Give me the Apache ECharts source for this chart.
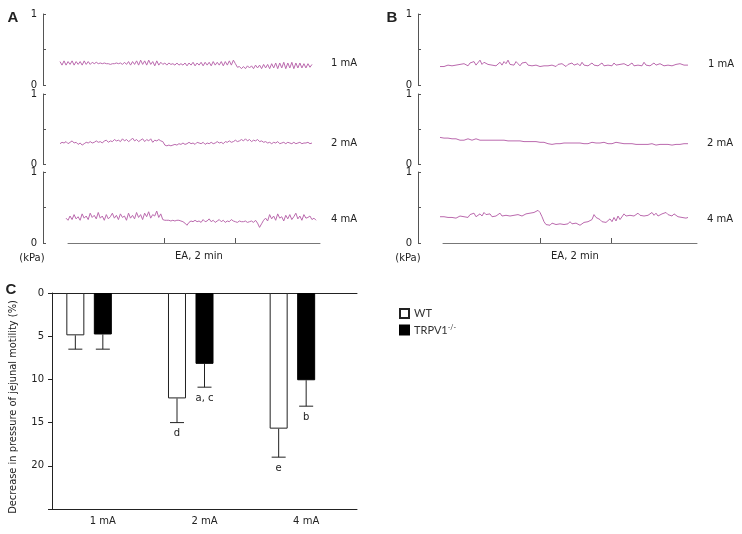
<!DOCTYPE html>
<html><head><meta charset="utf-8">
<script src="https://cdn.jsdelivr.net/npm/echarts@6/dist/echarts.min.js"></script>
<style>html,body{margin:0;padding:0;background:#fff}#c{width:742px;height:534px}</style>
</head><body><div id="c"></div>
<script>
// ---- Panel A traces (kPa) ----
const traceA1 = [
0.33,0.28,0.34,0.28,0.33,0.29,0.34,0.28,0.33,0.29,
0.33,0.28,0.34,0.29,0.33,0.29,0.32,0.30,0.32,0.30,
0.31,0.30,0.31,0.30,0.30,0.29,0.30,0.30,0.31,0.30,
0.31,0.29,0.32,0.29,0.33,0.28,0.33,0.29,0.34,0.28,
0.35,0.29,0.34,0.28,0.35,0.29,0.33,0.27,0.34,0.28,
0.32,0.29,0.31,0.28,0.31,0.29,0.30,0.28,0.31,0.28,
0.30,0.28,0.31,0.27,0.31,0.28,0.32,0.27,0.31,0.28,
0.32,0.27,0.32,0.28,0.32,0.27,0.33,0.28,0.32,0.28,
0.33,0.27,0.33,0.28,0.34,0.28,0.35,0.30,0.25,0.26,
0.23,0.26,0.23,0.27,0.24,0.27,0.23,0.28,0.24,0.28,
0.23,0.29,0.24,0.29,0.23,0.30,0.24,0.31,0.23,0.31,
0.24,0.32,0.23,0.31,0.24,0.32,0.23,0.31,0.24,0.31,
0.24,0.30,0.24,0.30,0.25,0.29];
const traceA2 = [
0.29,0.31,0.30,0.32,0.29,0.31,0.33,0.30,0.31,0.28,
0.30,0.27,0.29,0.31,0.30,0.32,0.30,0.31,0.33,0.31,
0.32,0.30,0.33,0.34,0.31,0.33,0.32,0.35,0.33,0.34,
0.32,0.36,0.33,0.35,0.32,0.34,0.37,0.33,0.35,0.32,
0.34,0.36,0.32,0.35,0.33,0.36,0.31,0.34,0.33,0.35,
0.33,0.32,0.27,0.26,0.27,0.26,0.27,0.28,0.27,0.29,
0.28,0.30,0.28,0.29,0.31,0.29,0.30,0.28,0.31,0.30,
0.29,0.31,0.28,0.30,0.29,0.31,0.29,0.30,0.32,0.30,
0.31,0.29,0.32,0.31,0.33,0.31,0.32,0.34,0.32,0.33,
0.35,0.33,0.36,0.33,0.35,0.32,0.34,0.33,0.35,0.32,
0.33,0.31,0.32,0.30,0.31,0.29,0.31,0.30,0.32,0.29,
0.30,0.31,0.29,0.31,0.30,0.29,0.31,0.29,0.30,0.31,
0.29,0.30,0.30,0.31,0.29,0.30];
const traceA3 = [
0.35,0.32,0.38,0.33,0.40,0.34,0.37,0.32,0.41,0.35,
0.38,0.33,0.42,0.36,0.39,0.34,0.43,0.35,0.38,0.32,
0.40,0.34,0.37,0.42,0.35,0.39,0.33,0.41,0.36,0.38,
0.32,0.42,0.35,0.39,0.34,0.43,0.36,0.40,0.33,0.42,
0.37,0.44,0.35,0.40,0.38,0.45,0.36,0.41,0.33,0.32,
0.32,0.32,0.31,0.32,0.31,0.32,0.32,0.31,0.30,0.28,
0.25,0.29,0.31,0.30,0.32,0.30,0.31,0.29,0.33,0.30,
0.31,0.34,0.30,0.32,0.29,0.31,0.33,0.30,0.32,0.29,
0.31,0.30,0.33,0.31,0.30,0.29,0.31,0.30,0.30,0.31,
0.29,0.30,0.31,0.29,0.32,0.28,0.22,0.27,0.32,0.35,
0.31,0.40,0.34,0.38,0.32,0.41,0.35,0.37,0.31,0.39,
0.34,0.40,0.33,0.37,0.42,0.34,0.38,0.32,0.40,0.35,
0.36,0.38,0.33,0.35,0.32];
// ---- Panel B traces (kPa) ----
const traceB1 = [
0.26,0.27,0.26,0.25,0.28,0.26,0.27,0.26,0.28,0.27,
0.29,0.27,0.30,0.28,0.27,0.31,0.29,0.33,0.28,0.30,
0.35,0.29,0.32,0.34,0.29,0.31,0.28,0.30,0.27,0.29,
0.32,0.28,0.33,0.30,0.35,0.29,0.31,0.28,0.33,0.30,
0.27,0.31,0.29,0.32,0.28,0.30,0.27,0.29,0.28,0.27,
0.26,0.28,0.27,0.25,0.27,0.26,0.28,0.27,0.26,0.29,
0.27,0.30,0.28,0.26,0.29,0.27,0.31,0.28,0.27,0.30,
0.27,0.32,0.28,0.30,0.27,0.29,0.31,0.28,0.30,0.27,
0.28,0.31,0.27,0.29,0.28,0.30,0.27,0.31,0.28,0.26,
0.29,0.27,0.30,0.28,0.27,0.29,0.31,0.27,0.29,0.28,
0.30,0.27,0.32,0.28,0.30,0.27,0.29,0.31,0.28,0.27,
0.30,0.28,0.27,0.29,0.28,0.30,0.27,0.26,0.29,0.28,
0.30,0.29,0.28,0.29,0.28];
const traceB2 = [
0.38,0.38,0.37,0.38,0.37,0.37,0.36,0.37,0.36,0.35,
0.34,0.35,0.34,0.35,0.36,0.35,0.34,0.35,0.36,0.35,
0.34,0.35,0.34,0.35,0.34,0.33,0.34,0.35,0.34,0.33,
0.34,0.33,0.34,0.35,0.33,0.34,0.33,0.32,0.33,0.32,
0.33,0.34,0.32,0.33,0.32,0.31,0.32,0.31,0.32,0.33,
0.31,0.30,0.31,0.30,0.29,0.28,0.28,0.28,0.29,0.28,
0.29,0.29,0.30,0.29,0.30,0.29,0.30,0.31,0.30,0.29,
0.30,0.31,0.29,0.30,0.29,0.30,0.31,0.29,0.30,0.29,
0.30,0.29,0.31,0.30,0.29,0.31,0.29,0.30,0.31,0.29,
0.30,0.28,0.29,0.30,0.29,0.28,0.29,0.30,0.28,0.29,
0.28,0.29,0.28,0.29,0.28,0.28,0.29,0.28,0.27,0.28,
0.28,0.29,0.28,0.27,0.28,0.28,0.27,0.28,0.28,0.29,
0.28,0.28,0.29,0.29,0.29];
const traceB3 = [
0.37,0.36,0.37,0.35,0.36,0.35,0.36,0.37,0.35,0.36,
0.38,0.36,0.37,0.39,0.36,0.40,0.38,0.42,0.37,0.39,
0.41,0.38,0.43,0.40,0.38,0.41,0.37,0.39,0.38,0.40,
0.42,0.38,0.40,0.39,0.41,0.38,0.40,0.39,0.38,0.40,
0.39,0.38,0.40,0.41,0.39,0.42,0.41,0.43,0.44,0.46,
0.43,0.37,0.30,0.26,0.27,0.25,0.28,0.27,0.26,0.28,
0.27,0.29,0.26,0.28,0.27,0.30,0.27,0.26,0.28,0.26,
0.25,0.27,0.29,0.27,0.30,0.28,0.33,0.40,0.36,0.38,
0.33,0.30,0.32,0.29,0.31,0.34,0.30,0.36,0.31,0.38,
0.33,0.34,0.41,0.38,0.40,0.39,0.41,0.38,0.40,0.42,
0.39,0.41,0.38,0.40,0.39,0.41,0.43,0.39,0.42,0.38,
0.40,0.41,0.39,0.43,0.40,0.42,0.38,0.41,0.39,0.37,
0.38,0.36,0.37,0.35,0.36];
const traceLabels = ['1 mA', '2 mA', '4 mA'];
const pressureTicks = [0, 0.5, 1];
const eaWindowSec = [0, 120];      // EA stimulation, 2 min
const timeRangeA = [-162, 264];
const timeRangeB = [-164, 265];

// ---- Panel C ----
const barCategories = ['1 mA', '2 mA', '4 mA'];
const wtMean = [4.9, 12.2, 15.7];
const wtSD   = [1.6, 2.8, 3.3];
const koMean = [4.8, 8.2, 10.1];
const koSD   = [1.7, 2.7, 3.0];
const wtNotes = ['', 'd', 'e'];
const koNotes = ['', 'a, c', 'b'];
const seriesNames = ['WT', 'TRPV1-/-'];

const FONT = 'DejaVu Sans';
const TRACE_COLOR = '#bb6aae';
const AXIS_GREY = '#555';
const BAR_W = 18, BAR_GAP_PX = 9.5, CAP_HALF = 7;

const chart = echarts.init(document.getElementById('c'), null, {renderer: 'canvas'});

const grids = [], xAxes = [], yAxes = [], series = [];

function addTrace(data, box, yOffset) {
  const gi = grids.length;
  grids.push({left: box[0], top: box[1], width: box[2], height: box[3], containLabel: false});
  xAxes.push({gridIndex: gi, type: 'category', boundaryGap: false, data: data.map((_, i) => i), show: false});
  yAxes.push({gridIndex: gi, type: 'value', min: pressureTicks[0], max: pressureTicks[2], interval: pressureTicks[1],
    offset: yOffset,
    axisLine: {show: true, lineStyle: {color: AXIS_GREY, width: 1}},
    axisTick: {show: true, inside: true, length: 3, lineStyle: {color: AXIS_GREY}},
    axisLabel: {show: true, margin: 6, color: '#222', fontFamily: FONT, fontSize: 10,
      formatter: v => (v === 0.5 ? '' : String(v))},
    splitLine: {show: false}});
  series.push({type: 'line', xAxisIndex: gi, yAxisIndex: gi, data: data, symbol: 'none',
    lineStyle: {color: TRACE_COLOR, width: 1}, silent: true, animation: false});
}

function addTimeAxis(box, range) {
  const gi = grids.length;
  grids.push({left: box[0], top: box[1], width: box[2], height: 1});
  xAxes.push({gridIndex: gi, type: 'value', min: range[0], max: range[1], position: 'bottom',
    axisLine: {show: true, onZero: false, lineStyle: {color: '#777', width: 1}},
    axisTick: {show: true, inside: true, length: 5, customValues: eaWindowSec, lineStyle: {color: '#555'}},
    axisLabel: {show: false}, splitLine: {show: false},
    name: 'EA, 2 min', nameLocation: 'middle', nameGap: 8,
    nameTextStyle: {fontFamily: FONT, fontSize: 10, color: '#222', padding: [0, 0, 0, 10], verticalAlign: 'top'}});
  yAxes.push({gridIndex: gi, type: 'value', show: false});
}

addTrace(traceA1, [60, 14, 252, 71], 17);
addTrace(traceA2, [60, 94, 252, 70], 17);
addTrace(traceA3, [66, 172, 250, 71], 23);
addTimeAxis([68, 242, 252], timeRangeA);
addTrace(traceB1, [440, 14, 248, 71], 22);
addTrace(traceB2, [440, 94, 248, 70], 22);
addTrace(traceB3, [440, 172, 248, 71], 22);
addTimeAxis([443, 242, 254], timeRangeB);

// Panel C grid
const gC = grids.length;
grids.push({left: 52, top: 293, width: 305, height: 216});
const xC = xAxes.length;
xAxes.push({gridIndex: gC, type: 'category', data: barCategories, position: 'bottom',
  axisLine: {onZero: false, lineStyle: {color: '#222', width: 1}},
  axisTick: {alignWithLabel: true, length: 4, lineStyle: {color: '#222'}},
  axisLabel: {color: '#222', fontFamily: FONT, fontSize: 10, margin: 7}});
xAxes.push({gridIndex: gC, type: 'category', data: barCategories, position: 'top',
  axisLine: {onZero: false, lineStyle: {color: '#222', width: 1}},
  axisTick: {show: false}, axisLabel: {show: false}});
const yC = yAxes.length;
yAxes.push({gridIndex: gC, type: 'value', min: 0, max: 25, interval: 5, inverse: true,
  name: 'Decrease in pressure of jejunal motility (%)', nameLocation: 'middle', nameGap: 34,
  nameTextStyle: {fontFamily: FONT, fontSize: 9.9, color: '#222', padding: [0, 12, 0, 0]},
  axisLine: {show: true, lineStyle: {color: '#222', width: 1}},
  axisTick: {show: true, length: 4, lineStyle: {color: '#222'}},
  axisLabel: {color: '#222', fontFamily: FONT, fontSize: 10, margin: 8,
    formatter: v => (v === 25 ? '' : String(v))},
  splitLine: {show: false}});

const barGapPct = (BAR_GAP_PX / BAR_W * 100).toFixed(1) + '%';
series.push({type: 'bar', name: seriesNames[0], xAxisIndex: xC, yAxisIndex: yC, data: wtMean,
  barWidth: BAR_W, barGap: barGapPct,
  itemStyle: {color: '#fff', borderColor: '#222', borderWidth: 1}, animation: false});
series.push({type: 'bar', name: seriesNames[1], xAxisIndex: xC, yAxisIndex: yC, data: koMean,
  barWidth: BAR_W, barGap: barGapPct,
  itemStyle: {color: '#000', borderColor: '#000', borderWidth: 1}, animation: false});
series.push({type: 'bar', name: 'spacer', xAxisIndex: xC, yAxisIndex: yC, data: [0, 0, 0],
  barWidth: BAR_W, barGap: barGapPct, silent: true,
  itemStyle: {color: 'rgba(0,0,0,0)', borderWidth: 0}, animation: false});

function errSeries(mean, sd, notes, offsetPx) {
  return {type: 'custom', xAxisIndex: xC, yAxisIndex: yC, animation: false, silent: true,
    data: mean.map((m, i) => [i, m, sd[i]]),
    renderItem: function (params, api) {
      const i = api.value(0);
      const cx = api.coord([i, 0])[0] + offsetPx;
      const yA = api.coord([i, api.value(1)])[1];
      const yB = api.coord([i, api.value(1) + api.value(2)])[1];
      const children = [
        {type: 'line', shape: {x1: cx, y1: yA, x2: cx, y2: yB}, style: {stroke: '#222', lineWidth: 1}},
        {type: 'line', shape: {x1: cx - CAP_HALF, y1: yB, x2: cx + CAP_HALF, y2: yB}, style: {stroke: '#222', lineWidth: 1}}
      ];
      const note = notes[params.dataIndex];
      if (note) children.push({type: 'text', x: cx, y: yB + 11,
        style: {text: note, fill: '#222', font: '10px ' + FONT, align: 'center', verticalAlign: 'middle',
          textAlign: 'center', textVerticalAlign: 'middle'}});
      return {type: 'group', children: children};
    }};
}
series.push(errSeries(wtMean, wtSD, wtNotes, -(BAR_W + BAR_GAP_PX)));
series.push(errSeries(koMean, koSD, koNotes, 0));

function txt(t, x, y, font, align) {
  return {type: 'text', x: x, y: y, silent: true,
    style: {text: t, fill: '#222', font: font, textAlign: align || 'left', textVerticalAlign: 'middle',
      align: align || 'left', verticalAlign: 'middle'}};
}
const graphics = [
  txt('A', 13, 18, 'bold 15px Liberation Sans', 'center'),
  txt('B', 392, 18, 'bold 15px Liberation Sans', 'center'),
  txt('C', 11, 290, 'bold 15px Liberation Sans', 'center'),
  txt('(kPa)', 32, 258, '10px ' + FONT, 'center'),
  txt('(kPa)', 408, 258, '10px ' + FONT, 'center'),
  txt(traceLabels[0], 331, 63, '10px ' + FONT),
  txt(traceLabels[1], 331, 143, '10px ' + FONT),
  txt(traceLabels[2], 331, 219, '10px ' + FONT),
  txt(traceLabels[0], 708, 64, '10px ' + FONT),
  txt(traceLabels[1], 707, 143, '10px ' + FONT),
  txt(traceLabels[2], 707, 219, '10px ' + FONT)
];

chart.setOption({
  animation: false,
  backgroundColor: '#fff',
  grid: grids, xAxis: xAxes, yAxis: yAxes, series: series,
  legend: {data: seriesNames, orient: 'vertical', left: 394, top: 303, itemWidth: 9, itemHeight: 9, itemGap: 5,
    icon: 'rect', selectedMode: false,
    textStyle: {fontFamily: 'Lato', fontSize: 11, color: '#333',
      rich: {sup: {fontFamily: 'Lato', fontSize: 7, color: '#333', verticalAlign: 'top', padding: [0, 0, 5, 0]}}},
    formatter: name => (name === 'TRPV1-/-' ? 'TRPV1{sup|-/-}' : name)},
  graphic: graphics
});
</script>
</body></html>
